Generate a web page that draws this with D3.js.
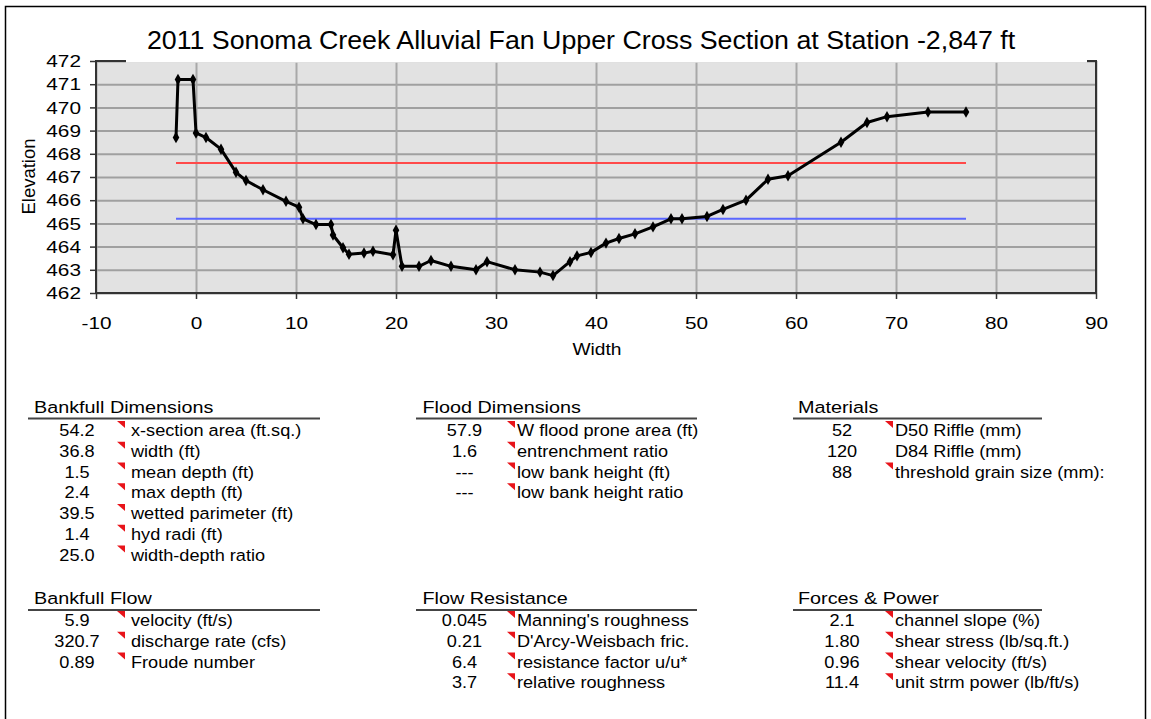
<!DOCTYPE html>
<html>
<head>
<meta charset="utf-8">
<script src="https://cdn.jsdelivr.net/npm/d3@7"></script>
<style>
  html, body { margin: 0; padding: 0; background: #fff; }
  svg { display: block; font-family: "Liberation Sans", Arial, sans-serif; }
</style>
</head>
<body>
<svg id="chart" width="1151" height="719"></svg>
<script>
// ---------- DATA ----------
const profileWidth = [-2.0, -1.8, -0.3, 0.0, 1.0, 2.5, 4.0, 5.0, 6.7, 9.0, 10.3, 10.7, 12.0, 13.5, 13.7, 14.7, 15.3, 16.8, 17.7, 19.7, 20.0, 20.6, 22.3, 23.5, 25.5, 28.0, 29.1, 31.9, 34.4, 35.7, 37.4, 38.1, 39.5, 41.0, 42.3, 43.9, 45.7, 47.5, 48.6, 51.1, 52.7, 55.0, 57.2, 59.2, 64.5, 67.1, 69.1, 73.2, 77.0];
const profileElev  = [468.7, 471.2, 471.2, 468.9, 468.7, 468.2, 467.2, 466.85, 466.45, 465.95, 465.7, 465.2, 464.95, 464.95, 464.5, 463.95, 463.67, 463.72, 463.8, 463.65, 464.7, 463.15, 463.15, 463.4, 463.15, 463.0, 463.35, 463.0, 462.9, 462.75, 463.35, 463.6, 463.75, 464.15, 464.35, 464.55, 464.85, 465.2, 465.2, 465.3, 465.6, 466.0, 466.9, 467.05, 468.5, 469.35, 469.6, 469.8, 469.8];
const floodLineX = [-2, 77];
const floodLineElev = 467.6;
const bankfullLineX = [-2, 77];
const bankfullLineElev = 465.2;
const xTicks = [-10, 0, 10, 20, 30, 40, 50, 60, 70, 80, 90];
const yTicks = [462, 463, 464, 465, 466, 467, 468, 469, 470, 471, 472];
const titleText = "2011 Sonoma Creek Alluvial Fan Upper Cross Section at Station -2,847 ft";
const xLabel = "Width";
const yLabel = "Elevation";

const bankfullDimValues = ["54.2", "36.8", "1.5", "2.4", "39.5", "1.4", "25.0"];
const bankfullDimLabels = ["x-section area (ft.sq.)", "width (ft)", "mean depth (ft)", "max depth (ft)", "wetted parimeter (ft)", "hyd radi (ft)", "width-depth ratio"];
const bankfullDimFlags  = [1, 1, 1, 1, 1, 1, 1];
const floodDimValues = ["57.9", "1.6", "---", "---"];
const floodDimLabels = ["W flood prone area (ft)", "entrenchment ratio", "low bank height (ft)", "low bank height ratio"];
const floodDimFlags  = [1, 1, 1, 1];
const materialsValues = ["52", "120", "88"];
const materialsLabels = ["D50 Riffle (mm)", "D84 Riffle (mm)", "threshold grain size (mm):"];
const materialsFlags  = [1, 0, 1];
const bankfullFlowValues = ["5.9", "320.7", "0.89"];
const bankfullFlowLabels = ["velocity (ft/s)", "discharge rate (cfs)", "Froude number"];
const bankfullFlowFlags  = [1, 1, 1];
const flowResValues = ["0.045", "0.21", "6.4", "3.7"];
const flowResLabels = ["Manning's roughness", "D'Arcy-Weisbach fric.", "resistance factor u/u*", "relative roughness"];
const flowResFlags  = [1, 1, 1, 1];
const forcesValues = ["2.1", "1.80", "0.96", "11.4"];
const forcesLabels = ["channel slope (%)", "shear stress (lb/sq.ft.)", "shear velocity (ft/s)", "unit strm power (lb/ft/s)"];
const forcesFlags  = [1, 1, 1, 1];

// ---------- DRAW ----------
const svg = d3.select("#chart");
const TXT = "#000";

svg.append("rect").attr("x", 5.5).attr("y", 6.5).attr("width", 1140).attr("height", 725)
  .attr("fill", "#fff").attr("stroke", "#000").attr("stroke-width", 1.5);

const x = d3.scaleLinear().domain([-10, 90]).range([96, 1096]);
const y = d3.scaleLinear().domain([462, 472]).range([293, 61]);
const [x0, x1] = x.range();
const [y0, y1] = y.range();

const plot = svg.append("g");
plot.append("rect").attr("x", x0).attr("y", y1).attr("width", x1 - x0).attr("height", y0 - y1)
  .attr("fill", "#e2e2e2");

const gy = plot.append("g").attr("transform", `translate(${x0},0)`)
  .call(d3.axisLeft(y).tickValues(yTicks).tickSize(-(x1 - x0)).tickFormat(""));
gy.select(".domain").remove();
gy.selectAll("line").attr("stroke", "#a0a0a0").attr("stroke-width", 2);
const gx = plot.append("g").attr("transform", `translate(0,${y1})`)
  .call(d3.axisBottom(x).tickValues(xTicks).tickSize(y0 - y1).tickFormat(""));
gx.select(".domain").remove();
gx.selectAll("line").attr("stroke", "#a8a8a8").attr("stroke-width", 2);

plot.append("line").attr("x1", x(floodLineX[0])).attr("x2", x(floodLineX[1]))
  .attr("y1", y(floodLineElev)).attr("y2", y(floodLineElev))
  .attr("stroke", "#ff4a4a").attr("stroke-width", 2);
plot.append("line").attr("x1", x(bankfullLineX[0])).attr("x2", x(bankfullLineX[1]))
  .attr("y1", y(bankfullLineElev)).attr("y2", y(bankfullLineElev))
  .attr("stroke", "#5a66ff").attr("stroke-width", 2);

const pts = profileWidth.map((w, i) => [w, profileElev[i]]);
plot.append("path").datum(pts)
  .attr("d", d3.line().x(d => x(d[0])).y(d => y(d[1])))
  .attr("fill", "none").attr("stroke", "#000").attr("stroke-width", 3).attr("stroke-linejoin", "round");
plot.selectAll("path.mk").data(pts).join("path").attr("class", "mk")
  .attr("transform", d => `translate(${x(d[0])},${y(d[1])})`)
  .attr("d", d3.symbol(d3.symbolDiamond, 38))
  .attr("fill", "#000");

plot.append("rect").attr("x", x0).attr("y", y1).attr("width", x1 - x0).attr("height", y0 - y1)
  .attr("fill", "none").attr("stroke", "#333").attr("stroke-width", 2);

const AX_SX = 1.3;
const ay = svg.append("g").attr("transform", `translate(${x0},0)`)
  .call(d3.axisLeft(y).tickValues(yTicks).tickSize(6).tickFormat(d => String(d)));
ay.select(".domain").remove();
ay.selectAll("line").attr("stroke", "#333").attr("stroke-width", 1.5);
ay.selectAll("text").attr("fill", TXT).attr("font-size", 16)
  .attr("x", -15 / AX_SX).attr("dy", "0.36em")
  .attr("transform", `scale(${AX_SX},1)`);

const ax = svg.append("g").attr("transform", `translate(0,${y0})`)
  .call(d3.axisBottom(x).tickValues(xTicks).tickSize(6).tickFormat(d => String(d)));
ax.select(".domain").remove();
ax.selectAll("line").attr("stroke", "#333").attr("stroke-width", 1.5);
ax.selectAll("text").attr("fill", TXT).attr("font-size", 16)
  .attr("y", 36).attr("dy", null)
  .attr("transform", `scale(${AX_SX},1)`);

svg.append("text").attr("transform", `translate(597,355) scale(1.2,1)`)
  .attr("text-anchor", "middle").attr("font-size", 16).attr("fill", TXT).text(xLabel);
svg.append("text").attr("transform", `translate(35,176.5) rotate(-90)`)
  .attr("text-anchor", "middle").attr("font-size", 18.5).attr("fill", TXT).text(yLabel);

svg.append("rect").attr("x", 126).attr("y", 20).attr("width", 961).attr("height", 42.5).attr("fill", "#fff");
svg.append("text").attr("transform", `translate(581,48.5) scale(1.03,1)`)
  .attr("text-anchor", "middle").attr("font-size", 26).attr("fill", "#000").text(titleText);

// ---------- TABLES ----------
const H_SX = 1.2, T_SX = 1.1;
function drawTable(cfg) {
  const g = svg.append("g");
  g.append("text").attr("transform", `translate(${cfg.hx},${cfg.hy}) scale(${H_SX},1)`)
    .attr("font-size", 16.5).attr("fill", TXT).text(cfg.title);
  g.append("line").attr("x1", cfg.ux0).attr("x2", cfg.ux1).attr("y1", cfg.uy).attr("y2", cfg.uy)
    .attr("stroke", "#444").attr("stroke-width", 2);
  cfg.values.forEach((v, i) => {
    const by = cfg.ry + i * 20.75;
    g.append("text").attr("transform", `translate(${cfg.vx},${by}) scale(${T_SX},1)`)
      .attr("text-anchor", "middle").attr("font-size", 16.5).attr("fill", TXT).text(v);
    if (cfg.flags[i]) {
      const tx = cfg.fx, ty = by - 15;
      g.append("path").attr("d", `M${tx},${ty}L${tx + 8},${ty}L${tx + 8},${ty + 7}Z`).attr("fill", "#e8141a");
    }
    g.append("text").attr("transform", `translate(${cfg.lx},${by}) scale(${T_SX},1)`)
      .attr("font-size", 16.5).attr("fill", TXT).text(cfg.labels[i]);
  });
}
const colA = { hx: 34, ux0: 28, ux1: 320, vx: 77, fx: 117, lx: 131 };
const colB = { hx: 422.5, ux0: 416, ux1: 697, vx: 464.5, fx: 507, lx: 517 };
const colC = { hx: 798, ux0: 793, ux1: 1042, vx: 842, fx: 885, lx: 895 };
const rowTop = { hy: 413, uy: 418.5, ry: 436 };
const rowBot = { hy: 604, uy: 610, ry: 626 };

drawTable({ ...colA, ...rowTop, title: "Bankfull Dimensions", values: bankfullDimValues, labels: bankfullDimLabels, flags: bankfullDimFlags });
drawTable({ ...colB, ...rowTop, title: "Flood Dimensions", values: floodDimValues, labels: floodDimLabels, flags: floodDimFlags });
drawTable({ ...colC, ...rowTop, title: "Materials", values: materialsValues, labels: materialsLabels, flags: materialsFlags });
drawTable({ ...colA, ...rowBot, title: "Bankfull Flow", values: bankfullFlowValues, labels: bankfullFlowLabels, flags: bankfullFlowFlags });
drawTable({ ...colB, ...rowBot, title: "Flow Resistance", values: flowResValues, labels: flowResLabels, flags: flowResFlags });
drawTable({ ...colC, ...rowBot, title: "Forces & Power", values: forcesValues, labels: forcesLabels, flags: forcesFlags });
</script>
</body>
</html>
